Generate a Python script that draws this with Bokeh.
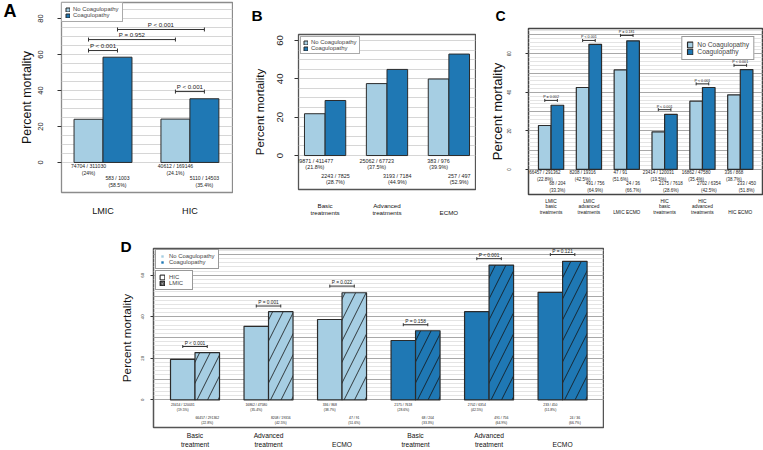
import numpy as np
from bokeh.plotting import figure
from bokeh.layouts import column, row, Spacer
from bokeh.models import Range1d, FixedTicker, Legend, LegendItem, Label, LinearAxis
from bokeh.core.properties import value
from bokeh.embed import file_html
from bokeh.resources import INLINE

LIGHT = "#a6cee3"
DARK = "#1f78b4"
FONT = "Liberation Sans"
EDGE = "#2b2b2b"

# ---------------- data ----------------
# Panel A : region, no coagulopathy vs coagulopathy
a_groups = ["LMIC", "HIC"]
a_no_deaths = [74704, 40612]
a_no_total = [311030, 169146]
a_no_pct = [24.0, 24.1]
a_co_deaths = [583, 5110]
a_co_total = [1003, 14503]
a_co_pct = [58.5, 35.4]
a_p_text = ["P < 0.001", "P = 0.952", "P < 0.001", "P < 0.001"]
a_p_pairs = [(0, 1), (0, 2), (1, 3), (2, 3)]   # bar index pairs (bars ordered left to right)
a_p_height = [62.2, 68.3, 73.9, 39.4]

# Panel B : treatment level
b_groups = ["Basic\ntreatments", "Advanced\ntreatments", "ECMO"]
b_no_deaths = [89871, 25062, 383]
b_no_total = [411477, 67723, 976]
b_no_pct = [21.8, 37.5, 39.9]
b_co_deaths = [2243, 3193, 257]
b_co_total = [7825, 7184, 497]
b_co_pct = [28.7, 44.9, 52.9]

# Panel C : region x treatment
c_groups = ["LMIC\nbasic\ntreatments", "LMIC\nadvanced\ntreatments", "LMIC ECMO",
            "HIC\nbasic\ntreatments", "HIC\nadvanced\ntreatments", "HIC ECMO"]
c_no_deaths = [66457, 8208, 47, 23414, 16862, 336]
c_no_total = [291362, 19316, 91, 120031, 47580, 868]
c_no_pct = [22.8, 42.5, 51.6, 19.5, 35.4, 38.7]
c_co_deaths = [68, 491, 24, 2175, 2702, 233]
c_co_total = [204, 756, 36, 7618, 6354, 450]
c_co_pct = [33.3, 64.9, 66.7, 28.6, 42.5, 51.8]
c_p_text = ["P = 0.002", "P < 0.001", "P = 0.181", "P < 0.001", "P < 0.001", "P < 0.001"]
c_p_height = [35.8, 66.9, 69.5, 31.0, 44.4, 54.0]

# Panel D : HIC vs LMIC within coagulopathy status
d_groups = ["Basic\ntreatment", "Advanced\ntreatment", "ECMO",
            "Basic\ntreatment", "Advanced\ntreatment", "ECMO"]
d_p_text = ["P < 0.001", "P = 0.001", "P = 0.022", "P = 0.158", "P < 0.001", "P = 0.121"]
d_p_height = [25.7, 45.2, 54.8, 36.2, 68.0, 70.0]


# ---------------- helpers ----------------
def count_lbl(d, t):
    return [f"{a} / {b}" for a, b in zip(d, t)]


def pct_lbl(v):
    return [f"({x:g}%)" for x in v]


def base_fig(w, h, bl, br, bt, bb, xr, yr, outline, ow):
    p = figure(width=w, height=h, x_range=Range1d(*xr), y_range=Range1d(*yr),
               output_backend="svg", toolbar_location=None, frame_align=False,
               min_border_left=bl, min_border_right=br,
               min_border_top=bt, min_border_bottom=bb)
    p.outline_line_color = outline
    p.outline_line_width = ow
    p.xgrid.visible = False
    p.background_fill_color = "white"
    p.border_fill_color = "white"
    return p


def style_y(p, ticks, tfont, tstand, tout, lfont, lstand):
    ax = p.yaxis[0]
    ax.ticker = FixedTicker(ticks=ticks)
    ax.major_label_orientation = "vertical"
    ax.major_label_text_font = FONT
    ax.major_label_text_font_size = f"{tfont}px"
    ax.major_label_text_color = "#222222"
    ax.major_label_standoff = int(tstand)
    ax.major_tick_out = int(tout)
    ax.major_tick_in = 0
    ax.major_tick_line_color = "#333333"
    ax.minor_tick_line_color = None
    ax.axis_line_color = None
    ax.axis_label = "Percent mortality"
    ax.axis_label_text_font = FONT
    ax.axis_label_text_font_style = "normal"
    ax.axis_label_text_font_size = f"{lfont}px"
    ax.axis_label_text_color = "#111111"
    ax.axis_label_standoff = int(lstand)


def style_x(p, centers, labels, font, lh, stand):
    ax = p.xaxis[0]
    ax.ticker = FixedTicker(ticks=centers)
    nmax = max(l.count("\n") for l in labels)
    ax.major_label_overrides = {c: "\n" * (nmax - l.count("\n")) + l
                                for c, l in zip(centers, labels)}
    ax.axis_line_color = None
    ax.major_tick_line_color = None
    ax.minor_tick_line_color = None
    ax.major_tick_out = 0
    ax.major_tick_in = 0
    ax.major_label_text_font = FONT
    ax.major_label_text_font_size = f"{font}px"
    ax.major_label_text_color = "#111111"
    ax.major_label_text_line_height = lh
    ax.major_label_standoff = int(stand)


def style_grid(p, major, minor, cmaj, cmin):
    g = p.ygrid[0]
    g.ticker = FixedTicker(ticks=major, minor_ticks=minor)
    g.grid_line_color = cmaj
    g.grid_line_width = 1
    g.minor_grid_line_color = cmin
    g.minor_grid_line_width = 1


def sub_text(p, xs, l1, l2, off1, off2, font):
    kw = dict(text_align="center", text_baseline="middle",
              text_font=value(FONT), text_font_size=f"{font}px", text_color="#222222")
    p.text(x=xs, y=[0] * len(xs), text=l1, y_offset=off1, **kw)
    p.text(x=xs, y=[0] * len(xs), text=l2, y_offset=off2, **kw)


def brackets(p, x0, x1, ys, texts, font, cap, gap):
    p.segment(x0=x0, y0=ys, x1=x1, y1=ys, line_color="#333333", line_width=1)
    p.scatter(x=list(x0) + list(x1), y=list(ys) + list(ys), marker="dash",
              angle=np.pi / 2, size=cap, line_color="#333333", line_width=1)
    p.text(x=[(a + b) / 2 for a, b in zip(x0, x1)], y=ys, text=texts, y_offset=-gap,
           text_align="center", text_baseline="bottom", text_font=value(FONT),
           text_font_size=f"{font}px", text_color="#222222")


def letter_above(p, txt, x, y, size):
    # canvas px of this figure: x = left edge of the letter, y = its baseline (downwards)
    p.add_layout(Label(x=x, y=y, x_units="canvas", y_units="canvas", text=txt,
                       text_font=FONT, text_font_style="bold", text_font_size=f"{size}px",
                       text_align="left", text_baseline="alphabetic", text_color="black"),
                 "above")


def style_legend(p, loc, margin, pad, font, gw, gh, stand, border):
    lg = p.legend[0]
    lg.location = loc
    lg.margin = margin
    lg.padding = pad
    lg.spacing = 0
    lg.label_text_font = FONT
    lg.label_text_font_size = f"{font}px"
    lg.label_height = gh
    lg.glyph_width = gw
    lg.glyph_height = gh
    lg.label_standoff = stand
    lg.border_line_color = border
    lg.border_line_width = 1
    lg.background_fill_alpha = 1


def bar_pos(ngroups):
    no = [1.5 + 3 * g for g in range(ngroups)]
    co = [2.5 + 3 * g for g in range(ngroups)]
    ctr = [2 + 3 * g for g in range(ngroups)]
    return no, co, ctr


# ---------------- panel A ----------------
pA = base_fig(233, 225, 55, 1, 2, 33, (0.567, 6.47), (-16.7, 88.9), "#8c8c8c", 1.3)
a_x_no, a_x_co, a_ctr = bar_pos(len(a_groups))
style_grid(pA, list(range(0, 90, 5)), [], "#d6d6d6", None)
pA.vbar(x=a_x_no, top=a_no_pct, width=1, fill_color=LIGHT, line_color=EDGE,
        line_width=1, legend_label="No Coagulopathy")
pA.vbar(x=a_x_co, top=a_co_pct, width=1, fill_color=DARK, line_color=EDGE,
        line_width=1, legend_label="Coagulopathy")
sub_text(pA, a_x_no, count_lbl(a_no_deaths, a_no_total), pct_lbl(a_no_pct), 4, 11, 5.1)
sub_text(pA, a_x_co, count_lbl(a_co_deaths, a_co_total), pct_lbl(a_co_pct), 16, 22.5, 5.1)
a_bars = [a_x_no[0], a_x_co[0], a_x_no[1], a_x_co[1]]
brackets(pA, [a_bars[i] for i, j in a_p_pairs], [a_bars[j] for i, j in a_p_pairs],
         a_p_height, a_p_text, 6.1, 4, 1.5)
style_y(pA, [0, 20, 40, 60, 80], 7.5, 14, 4, 12.4, 2)
style_x(pA, a_ctr, a_groups, 9.1, 1.2, 13)
style_legend(pA, "top_left", 0, 3, 5.9, 5, 5, 3, "#555555")
# panel letter "A": the single tick label of an outer left axis
a_letter_axis = LinearAxis(ticker=FixedTicker(ticks=[84]), major_label_overrides={84: "A"},
                           axis_line_color=None, major_tick_line_color=None,
                           minor_tick_line_color=None, major_tick_out=0, major_tick_in=0,
                           major_label_standoff=0, major_label_orientation="horizontal",
                           major_label_text_font=FONT, major_label_text_font_style="bold",
                           major_label_text_font_size="18px", major_label_text_color="black")
pA.add_layout(a_letter_axis, "left")

# ---------------- panel B ----------------
pB = base_fig(243, 225, 65, 1, 34, 36, (0.71, 9.29), (-17.7, 63.1), "#555555", 1.3)
b_x_no, b_x_co, b_ctr = bar_pos(len(b_groups))
style_grid(pB, list(range(0, 65, 5)), [], "#d6d6d6", None)
pB.vbar(x=b_x_no, top=b_no_pct, width=1, fill_color=LIGHT, line_color=EDGE,
        line_width=1, legend_label="No Coagulopathy")
pB.vbar(x=b_x_co, top=b_co_pct, width=1, fill_color=DARK, line_color=EDGE,
        line_width=1, legend_label="Coagulopathy")
sub_text(pB, b_x_no, count_lbl(b_no_deaths, b_no_total), pct_lbl(b_no_pct), 5, 11, 5.4)
sub_text(pB, b_x_co, count_lbl(b_co_deaths, b_co_total), pct_lbl(b_co_pct), 20, 26, 5.4)
style_y(pB, [0, 20, 40, 60], 9.6, 11, 4, 11.5, 9)
style_x(pB, b_ctr, b_groups, 6.2, 1.13, 12)
style_legend(pB, "top_left", 2, 2, 5.9, 5, 5, 3, "#555555")
letter_above(pB, "B", 18, 15, 15.4)

# ---------------- panel C ----------------
pC = base_fig(287, 225, 52, 1, 28, 31, (0.21, 18.76), (-13.0, 73.1), "#444444", 1.5)
c_x_no, c_x_co, c_ctr = bar_pos(len(c_groups))
style_grid(pC, list(range(0, 80, 10)), list(range(0, 74, 2)), "#a8a8a8", "#e4e4e4")
pC.vbar(x=c_x_no, top=c_no_pct, width=1, fill_color=LIGHT, line_color=EDGE,
        line_width=1.2, legend_label="No Coagulopathy")
pC.vbar(x=c_x_co, top=c_co_pct, width=1, fill_color=DARK, line_color=EDGE,
        line_width=1.2, legend_label="Coagulopathy")
sub_text(pC, c_x_no, count_lbl(c_no_deaths, c_no_total), pct_lbl(c_no_pct), 3, 10, 4.5)
sub_text(pC, c_x_co, count_lbl(c_co_deaths, c_co_total), pct_lbl(c_co_pct), 14, 21, 4.5)
brackets(pC, c_x_no, c_x_co, c_p_height, c_p_text, 3.7, 3, 1)
style_y(pC, [0, 20, 40, 60], 4.5, 14, 3, 13, 0)
style_x(pC, c_ctr, c_groups, 4.8, 1.15, 4)
style_legend(pC, "top_right", 8, 4, 6.7, 7, 7, 4, "#333333")
letter_above(pC, "C", 19, 15, 14)

# ---------------- panel D ----------------
pD = base_fig(494, 225, 43, 1, 23, 21, (0.306, 18.67), (-13.3, 72.9), "#555555", 1.5)
d_x_hic, d_x_lmic, d_ctr = bar_pos(len(d_groups))
hic_idx = [3, 4, 5]
lmic_idx = [0, 1, 2]
d_hic_pct = [c_no_pct[i] for i in hic_idx] + [c_co_pct[i] for i in hic_idx]
d_lmic_pct = [c_no_pct[i] for i in lmic_idx] + [c_co_pct[i] for i in lmic_idx]
d_hic_d = [c_no_deaths[i] for i in hic_idx] + [c_co_deaths[i] for i in hic_idx]
d_hic_t = [c_no_total[i] for i in hic_idx] + [c_co_total[i] for i in hic_idx]
d_lmic_d = [c_no_deaths[i] for i in lmic_idx] + [c_co_deaths[i] for i in lmic_idx]
d_lmic_t = [c_no_total[i] for i in lmic_idx] + [c_co_total[i] for i in lmic_idx]
d_colors = [LIGHT] * 3 + [DARK] * 3
style_grid(pD, list(range(0, 80, 10)), list(range(0, 74, 2)), "#a8a8a8", "#e4e4e4")
pD.vbar(x=d_x_hic, top=d_hic_pct, width=1, fill_color=d_colors, line_color=EDGE, line_width=1.2)
pD.vbar(x=d_x_lmic, top=d_lmic_pct, width=1, fill_color=d_colors, line_color=EDGE, line_width=1.2,
        hatch_pattern="/", hatch_scale=21, hatch_weight=0.8, hatch_color="#111111")
sub_text(pD, d_x_hic, count_lbl(d_hic_d, d_hic_t), pct_lbl(d_hic_pct), 5, 10, 3.4)
sub_text(pD, d_x_lmic, count_lbl(d_lmic_d, d_lmic_t), pct_lbl(d_lmic_pct), 18.3, 23, 3.4)
brackets(pD, d_x_hic, d_x_lmic, d_p_height, d_p_text, 4.8, 3, 1)
style_y(pD, [0, 20, 40, 60], 4.3, 6, 3, 11.8, 5)
style_x(pD, d_ctr, d_groups, 6.7, 1.3, 4)
letter_above(pD, "D", 10, 21, 15.4)

# legend key renderers (placed far outside the visible ranges)
r_no = pD.scatter(x=[-50], y=[-500], marker="square", size=3, fill_color=LIGHT, line_color=None)
r_co = pD.scatter(x=[-50], y=[-500], marker="square", size=3, fill_color=DARK, line_color=None)
r_hic = pD.quad(left=[-60], right=[-59], top=[-500], bottom=[-501],
                fill_color="white", line_color="#111111")
r_lmic = pD.quad(left=[-60], right=[-59], top=[-500], bottom=[-501],
                 fill_color="#9a9a9a", line_color="#111111",
                 hatch_pattern="/", hatch_scale=3, hatch_color="#111111", hatch_weight=0.6)
for items, loc in (([LegendItem(label="No Coagulopathy", renderers=[r_no]),
                     LegendItem(label="Coagulopathy", renderers=[r_co])], (2, 158)),
                   ([LegendItem(label="HIC", renderers=[r_hic]),
                     LegendItem(label="LMIC", renderers=[r_lmic])], (2, 137))):
    lg = Legend(items=items, location=loc, margin=0, padding=3, spacing=0,
                label_text_font=FONT, label_text_font_size="5.9px", label_height=6,
                glyph_width=6, glyph_height=6, label_standoff=4,
                border_line_color="#333333", border_line_width=1, background_fill_alpha=1)
    pD.add_layout(lg)

layout = column(row(pA, pB, pC), row(Spacer(width=110, height=225), pD))
open("out.html", "w").write(file_html(layout, INLINE, title="Mortality"))
